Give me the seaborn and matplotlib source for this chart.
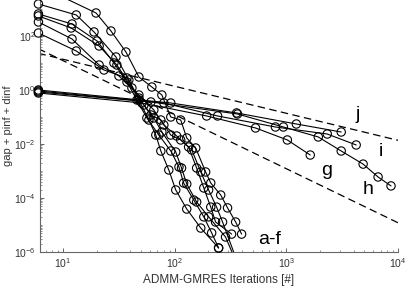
import matplotlib
matplotlib.use("Agg")
import matplotlib.pyplot as plt
import matplotlib.ticker as mticker
import pandas as pd
import seaborn as sns

# steep problems a-f
iters_a = [6, 13.1, 18.9, 29.7, 38.8, 47.7, 58.6, 67.6, 75.0, 88.4, 102, 128, 171, 247]
res_a = [1531, 600, 141, 16.7, 2.35, 0.426, 0.0774, 0.0215, 0.0055, 0.00109, 1.98e-4, 3.9e-5, 7.7e-6, 1.41e-6]

iters_b = [6, 12.0, 20.1, 28.5, 37.3, 45.8, 56.2, 72.0, 92.1, 109, 120, 148, 182, 214, 247]
res_b = [653, 278, 65.3, 10, 1.98, 0.426, 0.092, 0.0215, 0.0055, 0.00141, 3.6e-4, 8.4e-5, 2.0e-5, 5.1e-6, 1.41e-6]

iters_c = [6, 11.8, 21.0, 30.3, 41.3, 52.9, 64.9, 76.6, 102, 115, 128, 157, 201, 285, 343]
res_c = [551, 198, 42.6, 8.4, 1.19, 0.278, 0.092, 0.0278, 0.00506, 0.00129, 3.3e-4, 7.1e-5, 2.0e-5, 3.6e-6, 6.0e-7]

iters_d = [6, 12.0, 21.0, 31.6, 47.7, 64.9, 79.8, 104, 133, 157, 182, 210, 232, 323]
res_d = [330, 77.4, 8.4, 3.3, 0.653, 0.182, 0.0506, 0.0198, 0.00774, 0.00129, 2.35e-4, 4.6e-5, 1.29e-5, 4.6e-6]

iters_e = [6, 13.1, 23.2, 37.3, 47.7, 61.1, 75.0, 92.1, 113, 142, 171, 201, 237, 268, 358]
res_e = [129, 27.8, 5.5, 2.78, 0.506, 0.119, 0.0774, 0.0215, 0.0141, 0.0060, 9.2e-4, 1.98e-4, 4.6e-5, 1.29e-5, 5.1e-7]

iters_f = [9.5, 19.7, 26.8, 36.5, 47.7, 62.3, 76.6, 92.1, 113, 128, 154, 189, 210, 258, 297, 351, 397]
res_f = [3000, 711, 153, 25.5, 3.03, 1.29, 0.653, 0.1, 0.0774, 0.0167, 0.00711, 9.2e-4, 3.6e-4, 1.29e-4, 4.3e-5, 1.29e-5, 4.6e-6]

# slow problems g-j
iters_g = [6, 50.7, 193, 529, 1020, 1636]
res_g = [0.774, 0.33, 0.109, 0.0392, 0.0141, 0.0039]

iters_h = [6, 61.1, 365, 940, 1931, 3099, 4870, 6630, 8660]
res_h = [0.843, 0.36, 0.129, 0.0426, 0.0182, 0.0055, 0.0018, 6.0e-4, 2.8e-4]

iters_i = [6, 79.8, 242, 798, 2324, 4220]
res_i = [0.918, 0.33, 0.109, 0.0426, 0.0234, 0.0092]

iters_j = [6, 92.1, 358, 1228, 3099]
res_j = [1.0, 0.33, 0.141, 0.055, 0.0278]

# reference rates 1/k and 1/k^2
ref_iters = [6, 10000]
ref_inv_k = [22.8, 0.0137]
ref_inv_k2 = [33.7, 1.21e-5]

label_names = ["j", "i", "g", "h", "a-f"]
label_x = [4400, 7050, 2275, 5400, 705]
label_y = [0.129, 0.00506, 1e-3, 1.98e-4, 3.0e-6]

x_lim = (6.2, 1e4)
y_lim = (1e-6, 2150)

series = {
    "a": (iters_a, res_a), "b": (iters_b, res_b), "c": (iters_c, res_c),
    "d": (iters_d, res_d), "e": (iters_e, res_e), "f": (iters_f, res_f),
    "g": (iters_g, res_g), "h": (iters_h, res_h), "i": (iters_i, res_i),
    "j": (iters_j, res_j),
}
rows = []
for name, (xs, ys) in series.items():
    for x, y in zip(xs, ys):
        rows.append({"problem": name, "iters": x, "res": y})
df = pd.DataFrame(rows)
visible = df[(df["res"] >= y_lim[0]) & (df["res"] <= y_lim[1])]

ref_df = pd.DataFrame({
    "iters": ref_iters * 2,
    "res": ref_inv_k + ref_inv_k2,
    "rate": ["1/k"] * 2 + ["1/k2"] * 2,
})

sns.set_theme(style="white")
plt.rcParams["font.family"] = ["Liberation Sans", "DejaVu Sans"]
plt.rcParams["mathtext.fontset"] = "custom"
plt.rcParams["mathtext.rm"] = "Liberation Sans"

fig = plt.figure(figsize=(4.07, 2.89), dpi=100)
ax = fig.add_axes([40 / 407, 37 / 289, 358 / 407, 252 / 289])
ax.set_xscale("log")
ax.set_yscale("log")

sns.lineplot(
    data=ref_df, x="iters", y="res", units="rate", estimator=None,
    color="black", linewidth=0.9, dashes=False, linestyle=(0, (6, 3.5)), ax=ax,
)
sns.lineplot(
    data=df, x="iters", y="res", units="problem", estimator=None, sort=False,
    color="black", linewidth=0.8, ax=ax,
)
# markers are not clipped at the axes edge
sns.scatterplot(
    data=visible, x="iters", y="res", marker="o", s=36,
    facecolor="none", edgecolor="black", linewidth=0.8, clip_on=False,
    legend=False, ax=ax, zorder=3,
)

for name, x, y in zip(label_names, label_x, label_y):
    ax.text(x, y, name, fontsize=14, ha="center", va="center", color="black")

ax.set_xlim(*x_lim)
ax.set_ylim(*y_lim)
ax.xaxis.set_major_locator(mticker.LogLocator(base=10, numticks=10))
ax.xaxis.set_minor_locator(mticker.LogLocator(base=10, subs="auto", numticks=50))
ax.yaxis.set_major_locator(mticker.FixedLocator([1e-6, 1e-4, 1e-2, 1e0, 1e2]))
ax.yaxis.set_minor_locator(mticker.LogLocator(base=10, subs="all", numticks=50))
ax.xaxis.set_minor_formatter(mticker.NullFormatter())
ax.yaxis.set_minor_formatter(mticker.NullFormatter())

for side in ["top", "right"]:
    ax.spines[side].set_visible(False)
for side in ["left", "bottom"]:
    ax.spines[side].set_color("0.4")
    ax.spines[side].set_linewidth(0.8)
ax.tick_params(which="both", direction="in", color="0.4", labelsize=7.5, labelcolor="0.2",
               top=False, right=False, left=True, bottom=True)
ax.tick_params(which="major", length=3, width=0.7, pad=3)
ax.tick_params(which="minor", length=1.6, width=0.5)

ax.set_xlabel("ADMM-GMRES Iterations [#]", fontsize=8.5, color="0.2", labelpad=3)
ax.set_ylabel("gap + pinf + dinf", fontsize=8, color="0.2", labelpad=1)

fig.savefig("out.png", dpi=100)
